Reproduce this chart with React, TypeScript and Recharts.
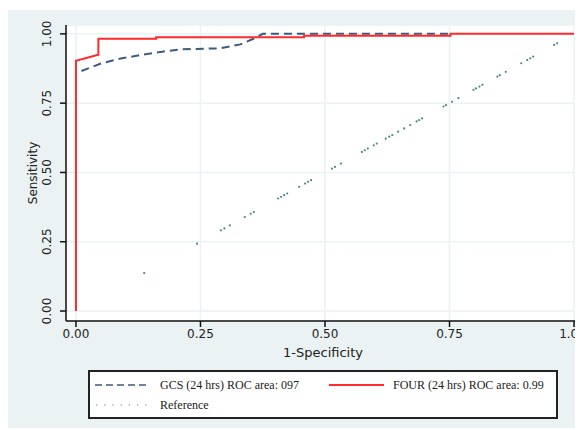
import { LineChart, Line, XAxis, YAxis, CartesianGrid, Label } from 'recharts';

// ROC points: [1-specificity, sensitivity]
const gcsFpr = [0.011, 0.05, 0.09, 0.13, 0.17, 0.21, 0.29, 0.33, 0.36, 0.375, 0.755];
const gcsSens = [0.866, 0.893, 0.911, 0.924, 0.935, 0.944, 0.948, 0.962, 0.985, 1.0, 1.0];

const fourFpr = [0, 0, 0.045, 0.045, 0.161, 0.161, 0.458, 0.458, 0.752, 0.752, 1.0];
const fourSens = [0, 0.903, 0.925, 0.982, 0.982, 0.988, 0.988, 0.993, 0.993, 1.0, 1.0];

// cut points along the reference diagonal
const refPoints = [
  0.137, 0.243, 0.291, 0.298, 0.309, 0.339, 0.351, 0.357, 0.406, 0.412, 0.418, 0.424,
  0.448, 0.46, 0.466, 0.472, 0.514, 0.52, 0.532, 0.574, 0.58, 0.586, 0.598, 0.604,
  0.622, 0.629, 0.635, 0.647, 0.659, 0.671, 0.684, 0.689, 0.695, 0.738, 0.743, 0.755,
  0.768, 0.798, 0.803, 0.81, 0.816, 0.846, 0.851, 0.863, 0.894, 0.906, 0.912, 0.918,
  0.96, 0.966,
];

const ticks = [0, 0.25, 0.5, 0.75, 1];

const gcsData = gcsFpr.map((x, i) => ({ x, y: gcsSens[i] }));
const fourData = fourFpr.map((x, i) => ({ x, y: fourSens[i] }));
const refData = refPoints.map((v) => ({ x: v, y: v }));

const BG = '#eaf2f3';
const GCS_COLOR = '#3d5a7e';
const FOUR_COLOR = '#ff2a2a';
const REF_COLOR = '#4f8585';
const tickFont = '"DejaVu Sans", sans-serif';
const legendFont = '"Liberation Serif", serif';

const YTick = ({ x, y, payload }: any) => {
  const cx = x - 11;
  return (
    <text
      x={cx}
      y={y}
      dy="0.35em"
      transform={`rotate(-90, ${cx}, ${y})`}
      textAnchor="middle"
      fontSize={12}
      fontFamily={tickFont}
      fill="#222"
    >
      {payload.value.toFixed(2)}
    </text>
  );
};

export default function App() {
  return (
    <div style={{ position: 'relative', top: 2, width: 575, height: 420, background: BG }}>
      <LineChart
        width={575}
        height={420}
        margin={{ top: 15, right: 1, left: 0, bottom: 69 }}
      >
        <CartesianGrid fill="#ffffff" stroke={BG} strokeWidth={1.5} />
        <XAxis
          type="number"
          dataKey="x"
          domain={[-0.02, 1.016]}
          ticks={ticks}
          allowDataOverflow
          tickFormatter={(v: number) => v.toFixed(2)}
          tickSize={6}
          height={40}
          stroke="#111"
          strokeWidth={1.5}
          tick={{ fontSize: 12, fontFamily: tickFont, fill: '#222' }}
        >
          <Label
            content={({ viewBox }: any) => (
              <text
                x={viewBox.x + (323 - 66)}
                y={viewBox.y + 36}
                textAnchor="middle"
                fontSize={13}
                fontFamily={tickFont}
                fill="#222"
              >
                1-Specificity
              </text>
            )}
          />
        </XAxis>
        <YAxis
          type="number"
          dataKey="y"
          domain={[-0.036, 1.032]}
          ticks={ticks}
          allowDataOverflow
          width={58}
          tickSize={6}
          stroke="#111"
          strokeWidth={1.5}
          tick={<YTick />}
        >
          <Label
            content={({ viewBox }: any) => {
              const cx = 25;
              const cy = viewBox.y + viewBox.height / 2;
              return (
                <text
                  x={cx}
                  y={cy}
                  dy="0.35em"
                  transform={`rotate(-90, ${cx}, ${cy})`}
                  textAnchor="middle"
                  fontSize={12}
                  fontFamily={tickFont}
                  fill="#222"
                >
                  Sensitivity
                </text>
              );
            }}
          />
        </YAxis>
        <Line
          data={refData}
          dataKey="y"
          stroke="none"
          dot={{ r: 1.1, fill: REF_COLOR, stroke: 'none' }}
          isAnimationActive={false}
        />
        <Line
          data={gcsData}
          dataKey="y"
          type="linear"
          stroke={GCS_COLOR}
          strokeWidth={2}
          strokeDasharray="8 5"
          dot={false}
          isAnimationActive={false}
        />
        <Line
          data={fourData}
          dataKey="y"
          type="linear"
          stroke={FOUR_COLOR}
          strokeWidth={2}
          dot={false}
          isAnimationActive={false}
        />
      </LineChart>
      <div
        style={{
          position: 'absolute',
          left: 80,
          top: 360,
          width: 466,
          height: 45,
          border: '2px solid #222',
          background: '#fff',
        }}
      >
        <svg width={466} height={45} style={{ position: 'absolute', left: 0, top: 0 }}>
          <line x1={5} x2={60} y1={13} y2={13} stroke={GCS_COLOR} strokeWidth={1.5} strokeDasharray="7 4" />
          <line x1={239} x2={294} y1={13} y2={13} stroke={FOUR_COLOR} strokeWidth={2} />
          <line x1={6} x2={60} y1={33} y2={33} stroke={REF_COLOR} strokeWidth={1.2} strokeDasharray="1.2 7" />
          <text x={70} y={17} fontFamily={legendFont} fontSize={12} fill="#222">
            GCS (24 hrs) ROC area: 097
          </text>
          <text x={303} y={17} fontFamily={legendFont} fontSize={12} fill="#222">
            FOUR (24 hrs) ROC area: 0.99
          </text>
          <text x={70} y={37} fontFamily={legendFont} fontSize={12} fill="#222">
            Reference
          </text>
        </svg>
      </div>
    </div>
  );
}
